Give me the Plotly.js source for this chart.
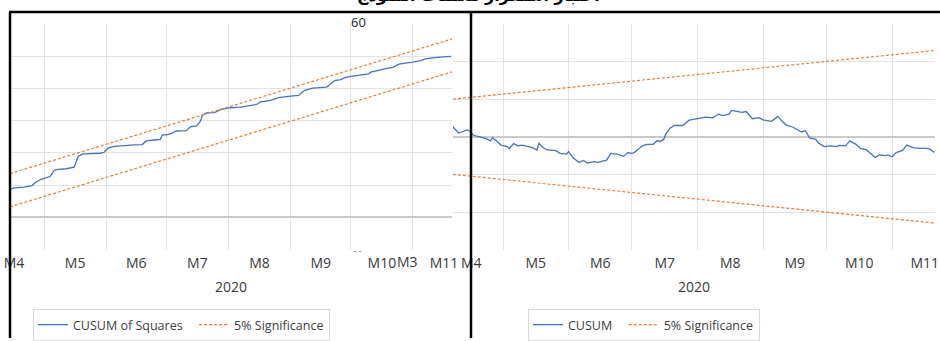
<!DOCTYPE html>
<html>
<head>
<meta charset="utf-8">
<script src="https://cdn.plot.ly/plotly-3.0.1.min.js"></script>
<style>html,body{margin:0;padding:0;background:#fff;}#chart{width:940px;height:341px;}</style>
</head>
<body>
<div id="chart"></div>
<script>
// ---- Left panel: CUSUM of Squares ----
const sqDates = ["2020-04-14","2020-04-16","2020-04-21","2020-04-25","2020-04-27","2020-04-29","2020-05-01","2020-05-04","2020-05-06","2020-05-08","2020-05-12","2020-05-16","2020-05-18","2020-05-20","2020-05-24","2020-05-29","2020-05-31","2020-06-02","2020-06-05","2020-06-10","2020-06-15","2020-06-19","2020-06-21","2020-06-25","2020-06-28","2020-06-29","2020-07-01","2020-07-04","2020-07-06","2020-07-11","2020-07-13","2020-07-16","2020-07-18","2020-07-19","2020-07-21","2020-07-25","2020-07-28","2020-08-02","2020-08-07","2020-08-15","2020-08-17","2020-08-22","2020-08-26","2020-09-01","2020-09-05","2020-09-08","2020-09-12","2020-09-19","2020-09-22","2020-09-23","2020-09-26","2020-09-28","2020-10-01","2020-10-10","2020-10-11","2020-10-16","2020-10-19","2020-10-22","2020-10-25","2020-10-29","2020-11-01","2020-11-05","2020-11-07","2020-11-13","2020-11-20"];
const sqValues = [0.087,0.092,0.094,0.099,0.110,0.117,0.121,0.127,0.146,0.149,0.151,0.156,0.189,0.196,0.198,0.199,0.202,0.215,0.220,0.223,0.225,0.226,0.237,0.240,0.242,0.256,0.256,0.261,0.268,0.269,0.281,0.284,0.298,0.317,0.324,0.325,0.334,0.340,0.342,0.350,0.358,0.363,0.371,0.376,0.378,0.394,0.401,0.404,0.417,0.424,0.427,0.433,0.437,0.445,0.450,0.458,0.462,0.465,0.475,0.479,0.481,0.486,0.491,0.496,0.499];
const sqSigDates = ["2020-04-14","2020-11-20 12:00"];
const sqSigUpper = [0.136, 0.553];
const sqSigLower = [0.033, 0.451];

// ---- Right panel: CUSUM ----
const cuDates = ["2020-04-07","2020-04-10","2020-04-13","2020-04-14","2020-04-15","2020-04-17","2020-04-20","2020-04-23","2020-04-25","2020-04-26","2020-04-28","2020-04-30","2020-05-03","2020-05-04","2020-05-06","2020-05-08","2020-05-10","2020-05-12","2020-05-15","2020-05-17","2020-05-18","2020-05-20","2020-05-22","2020-05-26","2020-05-28","2020-05-31","2020-06-01","2020-06-03","2020-06-06","2020-06-08","2020-06-10","2020-06-13","2020-06-15","2020-06-18","2020-06-19","2020-06-21","2020-06-24","2020-06-27","2020-06-29","2020-07-01","2020-07-02","2020-07-06","2020-07-08","2020-07-11","2020-07-13","2020-07-14","2020-07-16","2020-07-17","2020-07-19","2020-07-21","2020-07-25","2020-07-28","2020-07-31","2020-08-02","2020-08-05","2020-08-08","2020-08-11","2020-08-13","2020-08-16","2020-08-17","2020-08-20","2020-08-22","2020-08-24","2020-08-27","2020-08-30","2020-09-01","2020-09-05","2020-09-08","2020-09-10","2020-09-12","2020-09-15","2020-09-17","2020-09-19","2020-09-21","2020-09-23","2020-09-26","2020-09-27","2020-09-30","2020-10-03","2020-10-06","2020-10-07","2020-10-10","2020-10-12","2020-10-15","2020-10-17","2020-10-20","2020-10-22","2020-10-24","2020-10-26","2020-10-29","2020-10-30","2020-11-01","2020-11-03","2020-11-06","2020-11-08","2020-11-11","2020-11-14","2020-11-17","2020-11-19","2020-11-21"];
const cuValues = [2.8,1.0,1.6,1.8,1.6,0.4,0.0,-0.5,-1.1,-0.3,-1.1,-2.2,-2.6,-3.1,-1.8,-2.4,-2.2,-2.4,-2.9,-3.5,-1.7,-2.9,-3.5,-3.7,-4.4,-4.6,-3.9,-5.5,-6.8,-6.3,-7.0,-6.6,-6.8,-6.3,-6.2,-4.4,-4.6,-5.2,-4.2,-4.4,-4.2,-2.4,-2.0,-2.0,-1.0,-1.3,-0.7,0.8,2.3,3.0,3.0,4.4,4.7,5.0,5.2,5.0,6.0,5.6,6.0,7.0,6.7,6.5,6.7,4.8,5.1,4.5,4.1,5.4,4.1,3.1,2.6,1.9,1.3,1.6,-0.3,-0.7,-1.6,-2.6,-2.4,-2.6,-2.3,-2.4,-1.1,-2.0,-3.1,-3.5,-4.4,-5.5,-4.8,-5.0,-4.8,-5.3,-4.2,-3.6,-2.2,-2.9,-3.1,-3.1,-3.3,-4.2];
const cuSigDates = ["2020-04-07 08:00","2020-11-21 08:00"];
const cuSigUpper = [10.0, 22.9];
const cuSigLower = [-10.0, -22.9];

// ---- Text ----
const monthTickFormat = "M%-m";
const yearTitle = "2020";
const titleText = "اختبار استقرار معلمات النموذج";
const PAD = "\u00a0\u00a0";

const W = 940, H = 341;
const px = v => v / W;
const py = v => 1 - v / H;

const BLUE = "#4472C4", ORANGE = "#ED7D31";
const GRID = "#e3e3e3", ZERO = "#c9c9c9";
const FONT = "Open Sans, DejaVu Sans, sans-serif";

const traces = [
  {x: sqDates, y: sqValues, xaxis: "x", yaxis: "y", type: "scatter", mode: "lines",
   name: "CUSUM of Squares" + PAD, line: {color: BLUE, width: 1.3}, legend: "legend"},
  {x: sqSigDates, y: sqSigUpper, xaxis: "x", yaxis: "y", type: "scatter", mode: "lines",
   name: "5% Significance", line: {color: ORANGE, width: 1.2, dash: "3px,2px"}, legend: "legend", legendgroup: "s1"},
  {x: sqSigDates, y: sqSigLower, xaxis: "x", yaxis: "y", type: "scatter", mode: "lines",
   name: "5% Significance", line: {color: ORANGE, width: 1.2, dash: "3px,2px"}, showlegend: false, legend: "legend", legendgroup: "s1"},
  {x: cuDates, y: cuValues, xaxis: "x2", yaxis: "y2", type: "scatter", mode: "lines",
   name: "CUSUM" + PAD, line: {color: BLUE, width: 1.3}, legend: "legend2"},
  {x: cuSigDates, y: cuSigUpper, xaxis: "x2", yaxis: "y2", type: "scatter", mode: "lines",
   name: "5% Significance", line: {color: ORANGE, width: 1.2, dash: "3px,2px"}, legend: "legend2", legendgroup: "s2"},
  {x: cuSigDates, y: cuSigLower, xaxis: "x2", yaxis: "y2", type: "scatter", mode: "lines",
   name: "5% Significance", line: {color: ORANGE, width: 1.2, dash: "3px,2px"}, showlegend: false, legend: "legend2", legendgroup: "s2"}
];

const xCommon = {
  type: "date", dtick: "M1", tick0: "2020-01-01", ticklabelmode: "period",
  tickformat: monthTickFormat, showgrid: true, gridcolor: GRID, gridwidth: 1,
  zeroline: false, showline: false, ticks: "", ticklabelstandoff: 3,
  tickfont: {family: FONT, size: 14, color: "#3a3a3a"},
  title: {text: yearTitle, font: {family: FONT, size: 14, color: "#3a3a3a"}, standoff: 11},
  automargin: false, fixedrange: true
};
const yCommon = {
  showgrid: true, gridcolor: GRID, gridwidth: 1, zeroline: true, zerolinecolor: ZERO,
  zerolinewidth: 2, showticklabels: false, ticks: "", showline: false, tickmode: "array",
  automargin: false, fixedrange: true
};
const legendCommon = {
  orientation: "h", bgcolor: "#ffffff", bordercolor: "#d9d9d9", borderwidth: 1,
  font: {family: FONT, size: 12.5, color: "#404040"}, xanchor: "left", yanchor: "top",
  tracegroupgap: 0, itemwidth: 30
};

const layout = {
  width: W, height: H,
  margin: {l: 0, r: 0, t: 0, b: 0},
  paper_bgcolor: "#ffffff", plot_bgcolor: "#ffffff",
  showlegend: true,
  xaxis: Object.assign({}, xCommon, {domain: [px(10), px(452)], anchor: "y",
    range: ["2020-04-14", "2020-11-20 12:00"]}),
  yaxis: Object.assign({}, yCommon, {domain: [py(252), py(24)], anchor: "x",
    range: [-0.1, 0.6], tickvals: [0.1, 0.2, 0.3, 0.4, 0.5]}),
  xaxis2: Object.assign({}, xCommon, {domain: [px(453), px(935)], anchor: "y2",
    range: ["2020-04-07 08:00", "2020-11-21 08:00"]}),
  yaxis2: Object.assign({}, yCommon, {domain: [py(252), py(24)], anchor: "x2",
    range: [-30, 30], tickvals: [-20, -10, 10, 20]}),
  legend: Object.assign({}, legendCommon, {x: px(33), y: py(312)}),
  legend2: Object.assign({}, legendCommon, {x: px(528), y: py(312)}),
  annotations: [
    {text: "<b>" + titleText + "</b>", xref: "paper", yref: "paper", x: px(478), y: py(7),
     xanchor: "center", yanchor: "bottom", showarrow: false,
     font: {family: "DejaVu Sans, Noto Sans, sans-serif", size: 16, color: "#000"}},
    {text: "60", xref: "paper", yref: "paper", x: px(358), y: py(22), xanchor: "center",
     yanchor: "middle", showarrow: false, font: {family: FONT, size: 13, color: "#222"}},
    {text: "M3", xref: "paper", yref: "paper", x: px(407), y: py(264), xanchor: "center",
     yanchor: "middle", showarrow: false, font: {family: FONT, size: 14, color: "#3a3a3a"}},
    {text: "- -", xref: "paper", yref: "paper", x: px(358), y: py(252), xanchor: "center",
     yanchor: "middle", showarrow: false, font: {family: FONT, size: 8, color: "#333"}}
  ],
  shapes: [
    {type: "line", xref: "paper", yref: "paper", x0: px(9), x1: 1, y0: py(12), y1: py(12),
     line: {color: "#000", width: 2.5}, layer: "above"},
    {type: "line", xref: "paper", yref: "paper", x0: px(10), x1: px(10), y0: py(12), y1: 0,
     line: {color: "#000", width: 2.5}, layer: "above"},
    {type: "line", xref: "paper", yref: "paper", x0: px(471), x1: px(471), y0: py(12), y1: 0,
     line: {color: "#000", width: 2.5}, layer: "above"}
  ]
};

Plotly.newPlot("chart", traces, layout, {displayModeBar: false, staticPlot: true});
</script>
</body>
</html>
